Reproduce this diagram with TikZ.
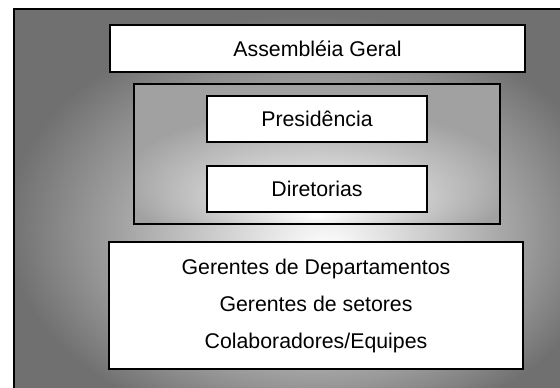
\documentclass[tikz,border=0pt]{standalone}
\usepackage{fontspec}
\setmainfont{Liberation Sans}
\definecolor{framegray}{rgb}{0.44, 0.44, 0.44}
\definecolor{midgray}{rgb}{0.63, 0.63, 0.63}
\pgfdeclareradialshading{frameshade}{\pgfpoint{3bp}{-6bp}}{color(0bp)=(white); color(27bp)=(framegray); color(50bp)=(framegray)}
\pgfdeclareradialshading{midshade}{\pgfpoint{0bp}{-22bp}}{color(0bp)=(white); color(27bp)=(midgray); color(50bp)=(midgray)}
\tikzset{whitebox/.style={draw, line width=1.6pt, fill=white, inner sep=0pt, font=\fontsize{21.3}{37}\selectfont, align=center}}
\tikzset{shadebox/.style={draw, line width=1.6pt, shade, inner sep=0pt}}

\begin{document}
\begin{tikzpicture}[x=1pt, y=-1pt]
        \useasboundingbox (0,0) rectangle (560,388);
        \clip (0,0) rectangle (560,388);

        \node[shadebox, shading=frameshade, anchor=north west, minimum width=560pt, minimum height=390pt] (frame) at (13, 8) {};

        \node[whitebox, minimum width=415pt, minimum height=47pt] (ag) at (317.5, 48.5) {Assembléia Geral};

        \node[shadebox, shading=midshade, minimum width=366pt, minimum height=140pt] (board) at (317, 154) {};
        \node[whitebox, minimum width=220pt, minimum height=46pt] (pres) at (317, 119) {Presidência};
        \node[whitebox, minimum width=220pt, minimum height=46pt] (dir) at (317, 189) {Diretorias};

        \node[whitebox, minimum width=414pt, minimum height=127pt] (staff) at (316, 305.5)
        {Gerentes de Departamentos\\Gerentes de setores\\Colaboradores/Equipes};
    \end{tikzpicture}
\end{document}
